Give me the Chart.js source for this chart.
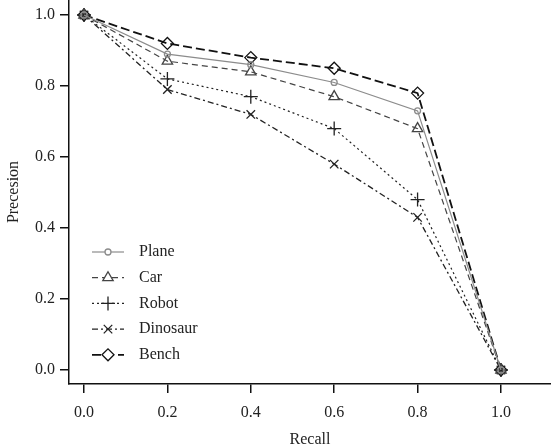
<!DOCTYPE html>
<html>
<head>
<meta charset="utf-8">
<script src="https://cdn.jsdelivr.net/npm/chart.js@4/dist/chart.umd.min.js"></script>
<style>
  html, body { margin: 0; padding: 0; background: #fff; }
  #wrap { width: 551px; height: 446px; position: relative; }
</style>
</head>
<body>
<div id="wrap"><canvas id="prChart"></canvas></div>
<script>
// recall levels (x axis) and precision per category
const recall = [0.0, 0.2, 0.4, 0.6, 0.8, 1.0];
const plane = [1.0, 0.89, 0.86, 0.81, 0.73, 0.0];
const car = [1.0, 0.87, 0.84, 0.77, 0.68, 0.0];
const robot = [1.0, 0.82, 0.77, 0.68, 0.48, 0.0];
const dinosaur = [1.0, 0.79, 0.72, 0.58, 0.43, 0.0];
const bench = [1.0, 0.92, 0.88, 0.85, 0.78, 0.0];
const xTicks = [0.0, 0.2, 0.4, 0.6, 0.8, 1.0];
const yTicks = [0.0, 0.2, 0.4, 0.6, 0.8, 1.0];

const FONT = '"Liberation Serif", "Times New Roman", serif';

const toPoints = (ys) => ys.map((y, i) => ({ x: recall[i], y: y }));

const series = [
    { label: 'Plane', data: plane, color: '#8c8c8c', dash: [], width: 1.2, style: 'circle', r: 3 },
    { label: 'Car', data: car, color: '#444', dash: [6, 4], width: 1.2, style: 'triangle', r: 6 },
    { label: 'Robot', data: robot, color: '#222', dash: [2, 3], width: 1.2, style: 'cross', r: 7 },
    { label: 'Dinosaur', data: dinosaur, color: '#222', dash: [6, 3, 2, 3], width: 1.3, style: 'crossRot', r: 6 },
    { label: 'Bench', data: bench, color: '#111', dash: [9, 4], width: 1.8, style: 'rectRot', r: 6 }
];

// legend drawn as line + marker samples, like the original figure
const lineLegend = {
    id: 'lineLegend',
    afterDraw(chart) {
        const ctx = chart.ctx;
        const area = chart.chartArea;
        const x0 = area.left + 23, x1 = area.left + 55;
        const xm = (x0 + x1) / 2;
        let y = 252;
        chart.data.datasets.forEach(ds => {
            ctx.save();
            ctx.strokeStyle = ds.borderColor;
            ctx.lineWidth = ds.borderWidth;
            ctx.setLineDash(ds.borderDash);
            ctx.beginPath();
            ctx.moveTo(x0, y);
            ctx.lineTo(x1, y);
            ctx.stroke();
            ctx.setLineDash([]);
            ctx.lineWidth = ds.pointBorderWidth;
            ctx.fillStyle = '#fff';
            Chart.helpers.drawPoint(ctx, {
                pointStyle: ds.pointStyle,
                radius: ds.pointRadius,
                rotation: 0,
                borderWidth: ds.pointBorderWidth
            }, xm, y);
            ctx.fillStyle = '#222';
            ctx.font = '16px ' + FONT;
            ctx.textBaseline = 'middle';
            ctx.fillText(ds.label, area.left + 70, y);
            ctx.restore();
            y += 25.7;
        });
    }
};

new Chart(document.getElementById('prChart'), {
    type: 'line',
    data: {
        datasets: series.map(s => ({
            label: s.label,
            data: toPoints(s.data),
            borderColor: s.color,
            borderWidth: s.width,
            borderDash: s.dash,
            pointStyle: s.style,
            pointRadius: s.r,
            pointBorderColor: s.color,
            pointBorderWidth: 1.3,
            pointBackgroundColor: 'rgba(255,255,255,0)',
            tension: 0,
            fill: false
        }))
    },
    options: {
        responsive: true,
        maintainAspectRatio: false,
        animation: false,
        layout: { padding: 0, autoPadding: false },
        plugins: {
            legend: { display: false },
            tooltip: { enabled: false }
        },
        scales: {
            x: {
                type: 'linear',
                min: -0.036,
                max: 1.12,
                afterBuildTicks: s => { s.ticks = xTicks.map(v => ({ value: v })); },
                afterFit: s => {
                    s.height = 62;
                    s.paddingLeft = 0;
                    s.paddingRight = 0;
                },
                border: { display: true, color: '#111', width: 1.5 },
                grid: { drawOnChartArea: false, drawTicks: true, tickLength: 9, color: '#111', lineWidth: 1.5 },
                ticks: {
                    padding: 10,
                    color: '#222',
                    font: { family: FONT, size: 16 },
                    callback: v => v.toFixed(1)
                },
                title: {
                    display: true,
                    text: 'Recall',
                    color: '#222',
                    font: { family: FONT, size: 16 },
                    padding: { top: -3, bottom: -3 }
                }
            },
            y: {
                type: 'linear',
                min: -0.0394,
                max: 1.0423,
                afterBuildTicks: s => { s.ticks = yTicks.map(v => ({ value: v })); },
                afterFit: s => {
                    s.width = 69;
                    s.paddingTop = 0;
                    s.paddingBottom = 0;
                },
                border: { display: true, color: '#111', width: 1.5 },
                grid: { drawOnChartArea: false, drawTicks: true, tickLength: 9, color: '#111', lineWidth: 1.5 },
                ticks: {
                    padding: 5,
                    color: '#222',
                    font: { family: FONT, size: 16 },
                    callback: v => v.toFixed(1)
                },
                title: {
                    display: true,
                    text: 'Precesion',
                    color: '#222',
                    font: { family: FONT, size: 16 },
                    padding: { top: 4, bottom: 0 }
                }
            }
        }
    },
    plugins: [lineLegend]
});
</script>
</body>
</html>
